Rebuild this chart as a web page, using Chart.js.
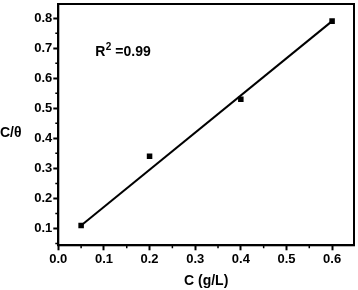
<!DOCTYPE html>
<html>
<head>
<meta charset="utf-8">
<script src="https://cdn.jsdelivr.net/npm/chart.js@4/dist/chart.umd.min.js"></script>
<style>
  html, body { margin: 0; padding: 0; background: #fff; }
  #wrap { width: 358px; height: 290px; position: relative; }
</style>
</head>
<body>
<div id="wrap"><canvas id="chart"></canvas></div>
<script>
// data
const concentration = [0.05, 0.2, 0.4, 0.6];
const cOverTheta = [0.11, 0.34, 0.53, 0.79];
const fitX = [0.05, 0.6];
const fitY = [0.11, 0.79];

// tick labels
const xMajor = [0.0, 0.1, 0.2, 0.3, 0.4, 0.5, 0.6];
const xMinor = [0.05, 0.15, 0.25, 0.35, 0.45, 0.55];
const yMajor = [0.1, 0.2, 0.3, 0.4, 0.5, 0.6, 0.7, 0.8];
const yMinor = [0.05, 0.15, 0.25, 0.35, 0.45, 0.55, 0.65, 0.75];

const FONT = 'Liberation Sans, Arial, Helvetica, sans-serif';

// frame, minor ticks, y title, R² note
const extras = {
    id: 'extras',
    afterDraw(chart) {
        const { ctx, chartArea: a, scales: { x, y } } = chart;
        ctx.save();
        ctx.strokeStyle = '#000';
        ctx.lineWidth = 2;
        ctx.strokeRect(a.left, a.top, a.right - a.left, a.bottom - a.top);

        ctx.lineWidth = 1.5;
        ctx.beginPath();
        xMinor.forEach(v => {
            const px = x.getPixelForValue(v);
            ctx.moveTo(px, a.bottom);
            ctx.lineTo(px, a.bottom + 3);
        });
        yMinor.forEach(v => {
            const py = y.getPixelForValue(v);
            if (py > a.bottom) return;
            ctx.moveTo(a.left, py);
            ctx.lineTo(a.left - 3, py);
        });
        ctx.stroke();

        ctx.fillStyle = '#000';
        ctx.textBaseline = 'middle';
        ctx.textAlign = 'left';
        ctx.font = 'bold 14px ' + FONT;
        ctx.fillText('C/θ', 0, a.top + (a.bottom - a.top) * 0.535);

        // R² annotation
        const rx = x.getPixelForValue(0.081);
        const ry = y.getPixelForValue(0.687);
        ctx.font = 'bold 14px ' + FONT;
        ctx.fillText('R', rx, ry);
        let w = ctx.measureText('R').width;
        ctx.font = 'bold 10px ' + FONT;
        ctx.fillText('2', rx + w + 0.5, ry - 5);
        w += ctx.measureText('2').width + 0.5;
        ctx.font = 'bold 14px ' + FONT;
        ctx.fillText(' =0.99', rx + w, ry);
        ctx.restore();
    }
};

const ctx = document.getElementById('chart').getContext('2d');
new Chart(ctx, {
    type: 'scatter',
    data: {
        datasets: [
            {
                label: 'data',
                data: concentration.map((c, i) => ({ x: c, y: cOverTheta[i] })),
                pointStyle: 'rect',
                pointRadius: 3.9,
                pointBorderWidth: 0,
                backgroundColor: '#000',
                borderColor: '#000',
                showLine: false
            },
            {
                label: 'fit',
                data: fitX.map((c, i) => ({ x: c, y: fitY[i] })),
                showLine: true,
                pointRadius: 0,
                borderColor: '#000',
                borderWidth: 2,
                fill: false
            }
        ]
    },
    options: {
        responsive: true,
        maintainAspectRatio: false,
        animation: false,
        layout: { padding: { top: 1.5, right: 3, left: 0, bottom: 0 } },
        plugins: {
            legend: { display: false },
            tooltip: { enabled: false }
        },
        scales: {
            x: {
                type: 'linear',
                min: 0,
                max: 0.648,
                afterBuildTicks: s => { s.ticks = xMajor.map(v => ({ value: v })); },
                afterFit: s => { s.height = 44.7; s.paddingLeft = 0; s.paddingRight = 0; },
                ticks: {
                    color: '#000',
                    padding: 1,
                    maxRotation: 0,
                    font: { family: FONT, size: 13, weight: 'bold' },
                    callback: v => v.toFixed(1)
                },
                grid: {
                    drawOnChartArea: false,
                    drawTicks: true,
                    tickLength: 5,
                    tickWidth: 2,
                    tickColor: '#000'
                },
                border: { color: '#000', width: 2 },
                title: {
                    display: true,
                    text: 'C (g/L)',
                    color: '#000',
                    font: { family: FONT, size: 14, weight: 'bold' },
                    padding: { top: 4, bottom: 0 }
                }
            },
            y: {
                type: 'linear',
                min: 0.044,
                max: 0.847,
                afterBuildTicks: s => { s.ticks = yMajor.map(v => ({ value: v })); },
                afterFit: s => { s.width = 58.3; s.paddingTop = 0; s.paddingBottom = 0; },
                ticks: {
                    color: '#000',
                    padding: 1,
                    font: { family: FONT, size: 13, weight: 'bold' },
                    callback: v => v.toFixed(1)
                },
                grid: {
                    drawOnChartArea: false,
                    drawTicks: true,
                    tickLength: 5,
                    tickWidth: 2,
                    tickColor: '#000'
                },
                border: { color: '#000', width: 2 }
            }
        }
    },
    plugins: [extras]
});
</script>
</body>
</html>
